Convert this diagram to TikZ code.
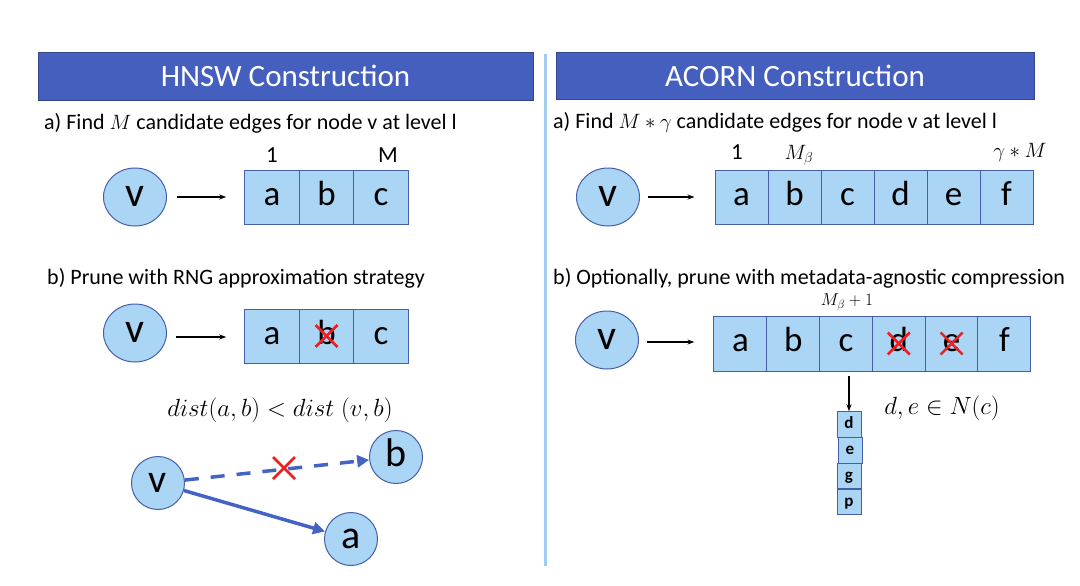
\documentclass[tikz,border=0pt]{standalone}
\usepackage{fontspec}
\setmainfont{Carlito}
\usetikzlibrary{arrows.meta,shapes.geometric,calc}
\definecolor{titleblue}{RGB}{68,95,190}
\definecolor{titleedge}{RGB}{50,70,140}
\definecolor{cellfill}{RGB}{170,213,245}
\definecolor{celledge}{RGB}{70,95,170}
\definecolor{arrowblue}{RGB}{68,100,196}
\definecolor{divider}{RGB}{160,205,240}
\definecolor{crossred}{RGB}{240,30,30}
\tikzset{
  titlebar/.style={draw=titleedge, fill=titleblue, line width=0.8pt, text=white, font=\fontsize{31}{34}\selectfont, inner sep=0pt},
  cell/.style={draw=celledge, fill=cellfill, line width=1pt, minimum width=54.5pt, minimum height=54pt, inner sep=0pt, font=\fontsize{35}{38}\selectfont, text height=16.3pt, text depth=0pt, anchor=center},
  rcell/.style={cell, minimum width=53pt},
  scell/.style={draw=celledge, fill=cellfill, line width=0.9pt, minimum width=24pt, minimum height=25.5pt, inner sep=0pt, font=\bfseries\fontsize{17}{19}\selectfont, text height=8pt, text depth=0pt},
  vnode/.style={ellipse, draw=celledge, fill=cellfill, line width=1pt, minimum width=63pt, minimum height=58pt, inner sep=0pt, font=\fontsize{42}{46}\selectfont, text height=19.6pt, text depth=0pt},
  gnode/.style={circle, draw=celledge, fill=cellfill, line width=1pt, minimum size=53pt, inner sep=0pt, font=\fontsize{40}{44}\selectfont, text height=18.6pt, text depth=0pt},
  caption/.style={anchor=west, inner sep=0pt, font=\fontsize{22}{25}\selectfont},
  idx/.style={inner sep=0pt, font=\fontsize{23}{26}\selectfont},
  mathlbl/.style={inner sep=0pt, font=\fontsize{24}{27}\selectfont},
  ptr/.style={-{Stealth[length=7pt,width=5pt]}, line width=1.3pt, black},
  bigarrow/.style={-{Triangle[length=12pt,width=12pt]}, line width=3.5pt, arrowblue},
  redx/.style={crossred, line width=2.6pt},
}
\begin{document}
\begin{tikzpicture}[x=1pt,y=-1pt]
\useasboundingbox (0,0) rectangle (1080,586);
\fill[white] (0,0) rectangle (1080,586);

% divider
\draw[divider, line width=3pt] (545,54) -- (545,566);

% titles
\node[titlebar, minimum width=495pt, minimum height=48pt] (t1) at (285.5,76) {HNSW Construction};
\node[titlebar, minimum width=478pt, minimum height=47pt] (t2) at (795,75.5) {ACORN Construction};

% ===== LEFT =====
\node[caption] (la) at (44,123) {a) Find $M$ candidate edges for node v at level l};
\node[vnode] (lv1) at (135,197) {v};
\node[cell] (la1) at (272,197.5) {a};
\node[cell] (lb1) at (326.5,197.5) {b};
\node[cell] (lc1) at (381,197.5) {c};
\node[idx] (l1) at (272,155) {1};
\node[idx] (lM) at (388,155) {M};
\draw[ptr, shorten <=10pt, shorten >=18pt] (lv1.east) -- (la1.west |- lv1.east);

\node[caption] (lb) at (47,278) {b) Prune with RNG approximation strategy};
\node[vnode] (lv2) at (135,333) {v};
\node[cell] (la2) at (272,336) {a};
\node[cell] (lb2) at (326.5,336) {b};
\node[cell] (lc2) at (381,336) {c};
\draw[ptr, shorten <=9pt, shorten >=18pt] ($(lv2.east)+(0,4)$) -- ($(la2.west |- lv2.east)+(0,4)$);
\draw[redx] ($(lb2)+(-11,-11)$) -- ($(lb2)+(11,11)$);
\draw[redx] ($(lb2)+(11,-11)$) -- ($(lb2)+(-11,11)$);

\node[mathlbl] (dist) at (280,410) {$dist(a,b) < dist\;(v,b)$};

\node[gnode] (gv) at (158,483) {v};
\node[gnode] (gb) at (396,457) {b};
\node[gnode] (ga) at (351,539) {a};
\draw[bigarrow, dash pattern=on 14pt off 12pt] (gv) -- (gb);
\draw[bigarrow] (gv) -- (ga);
\coordinate (gx) at (284,468);
\draw[redx] ($(gx)+(-11,-11)$) -- ($(gx)+(11,11)$);
\draw[redx] ($(gx)+(11,-11)$) -- ($(gx)+(-11,11)$);

% ===== RIGHT =====
\node[caption] (ra) at (553,122) {a) Find $M*\gamma$ candidate edges for node v at level l};
\node[vnode] (rv1) at (608,197) {v};
\foreach \l [count=\i] in {a,b,c,d,e,f}{
  \node[rcell] (r1\l) at ({715+26.5+(\i-1)*53},197) {\l};
}
\node[idx] (r1one) at (737,152) {1};
\node[mathlbl, font=\fontsize{21}{24}\selectfont] (r1mb) at (799,155) {$M_\beta$};
\node[mathlbl, font=\fontsize{21}{24}\selectfont] (r1gm) at (1020,152) {$\gamma*M$};
\draw[ptr, shorten <=8pt, shorten >=20pt] (rv1.east) -- (r1a.west |- rv1.east);

\node[caption] (rb) at (553,278) {b) Optionally, prune with metadata-agnostic compression};
\node[vnode] (rv2) at (607,340) {v};
\foreach \l [count=\i] in {a,b,c,d,e,f}{
  \node[rcell, minimum height=55pt] (r2\l) at ({714+26.4+(\i-1)*52.8},343.5) {\l};
}
\node[mathlbl, font=\fontsize{17}{20}\selectfont] (r2mb) at (847,302) {$M_\beta+1$};
\draw[ptr, shorten <=8pt, shorten >=19pt] ($(rv2.east)+(0,2)$) -- ($(r2a.west |- rv2.east)+(0,2)$);
\foreach \l in {d,e}{
  \draw[redx] ($(r2\l)+(-11,-11)$) -- ($(r2\l)+(11,11)$);
  \draw[redx] ($(r2\l)+(11,-11)$) -- ($(r2\l)+(-11,11)$);
}

\node[scell] (sd) at (849,424.5) {d};
\node[scell] (se) at (850,450.5) {e};
\node[scell] (sg) at (849,476) {g};
\node[scell] (sp) at (849,502) {p};
\draw[ptr, shorten <=4pt] (r2c.south -| sd.north) -- (sd.north);

\node[mathlbl] (nc) at (942,408) {$d,e\in N(c)$};
\end{tikzpicture}
\end{document}
